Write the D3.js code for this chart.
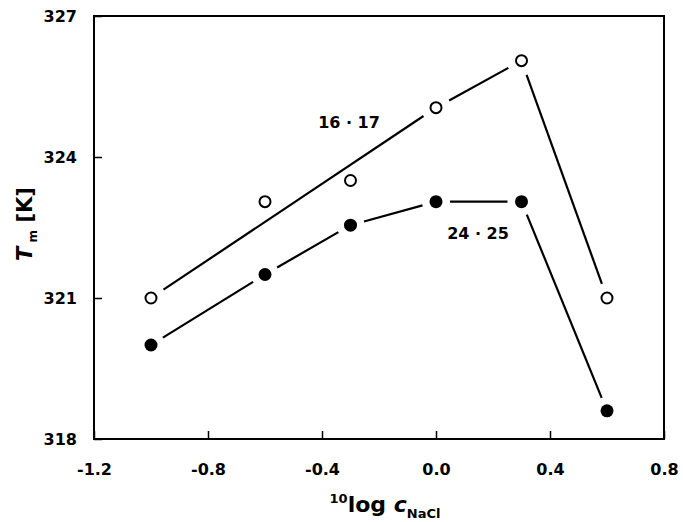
<!DOCTYPE html>
<html>
<head>
<meta charset="utf-8">
<script src="https://cdn.jsdelivr.net/npm/d3@7"></script>
<style>
  body { margin: 0; background: #fff; }
  text { font-family: "DejaVu Sans", "Liberation Sans", Arial, sans-serif; font-weight: bold; fill: #000; }
</style>
</head>
<body>
<div id="chart"></div>
<script>
const width = 683;
const height = 522;

// data
const logC = [-1.0, -0.6, -0.3, 0.0, 0.3, 0.6];
const tm1617 = [321.0, 323.05, 323.5, 325.05, 326.05, 321.0];
const tm2425 = [320.0, 321.5, 322.55, 323.05, 323.05, 318.6];
// the open series line skips the -0.6 and -0.3 points
const line1617X = [-1.0, 0.0, 0.3, 0.6];
const xTicks = [-1.2, -0.8, -0.4, 0.0, 0.4, 0.8];
const yTicks = [318, 321, 324, 327];

const x = d3.scaleLinear().domain([-1.2, 0.8]).range([94, 664]);
const y = d3.scaleLinear().domain([318, 327]).range([439, 16]);

const svg = d3.select("#chart").append("svg").attr("width", width).attr("height", height);

// frame
svg.append("rect")
    .attr("x", x(-1.2)).attr("y", y(327))
    .attr("width", x(0.8) - x(-1.2)).attr("height", y(318) - y(327))
    .attr("fill", "none").attr("stroke", "#000").attr("stroke-width", 2);

// axes with inward ticks
const xAxis = svg.append("g")
    .attr("transform", `translate(0,${y(318)})`)
    .call(d3.axisBottom(x).tickValues(xTicks).tickSizeInner(-8).tickSizeOuter(0).tickPadding(25));
xAxis.select(".domain").remove();
xAxis.selectAll("line").attr("stroke-width", 1.5);
xAxis.selectAll("text").style("font-size", "16px").text(d => d3.format(".1f")(d).replace("\u2212", "-"));

const yAxis = svg.append("g")
    .attr("transform", `translate(${x(-1.2)},0)`)
    .call(d3.axisLeft(y).tickValues(yTicks).tickSizeInner(-8).tickSizeOuter(0).tickPadding(17));
yAxis.select(".domain").remove();
yAxis.selectAll("line").attr("stroke-width", 1.5);
yAxis.selectAll("text").style("font-size", "16px");

// segments between points, with a gap round each marker
function gapped(points, gap) {
    const segs = [];
    for (let i = 0; i < points.length - 1; i++) {
        const [x1, y1] = points[i], [x2, y2] = points[i + 1];
        const len = Math.hypot(x2 - x1, y2 - y1);
        const ux = (x2 - x1) / len, uy = (y2 - y1) / len;
        segs.push([x1 + ux * gap, y1 + uy * gap, x2 - ux * gap, y2 - uy * gap]);
    }
    return segs;
}

const pts1617 = line1617X.map(v => [x(v), y(tm1617[logC.indexOf(v)])]);
const pts2425 = logC.map((v, i) => [x(v), y(tm2425[i])]);

svg.selectAll("line.seg")
    .data(gapped(pts1617, 15).concat(gapped(pts2425, 14)))
    .join("line")
    .attr("class", "seg")
    .attr("x1", d => d[0]).attr("y1", d => d[1])
    .attr("x2", d => d[2]).attr("y2", d => d[3])
    .attr("stroke", "#000").attr("stroke-width", 2.2);

svg.selectAll("circle.open")
    .data(logC)
    .join("circle")
    .attr("class", "open")
    .attr("cx", d => x(d))
    .attr("cy", (d, i) => y(tm1617[i]))
    .attr("r", 5.5)
    .attr("fill", "#fff").attr("stroke", "#000").attr("stroke-width", 2);

svg.selectAll("circle.filled")
    .data(logC)
    .join("circle")
    .attr("class", "filled")
    .attr("cx", d => x(d))
    .attr("cy", (d, i) => y(tm2425[i]))
    .attr("r", 6.5)
    .attr("fill", "#000");

// series labels
svg.append("text").attr("x", 349).attr("y", 128).attr("text-anchor", "middle")
    .style("font-size", "16px").text("16 \u00b7 17");
svg.append("text").attr("x", 478).attr("y", 239).attr("text-anchor", "middle")
    .style("font-size", "16px").text("24 \u00b7 25");

// axis titles
const xt = svg.append("text").attr("x", 385).attr("y", 512).attr("text-anchor", "middle")
    .style("font-size", "22px");
xt.append("tspan").attr("dy", -9).style("font-size", "13px").text("10");
xt.append("tspan").attr("dy", 9).text("log ");
xt.append("tspan").style("font-style", "italic").text("c");
xt.append("tspan").attr("dy", 6).style("font-size", "13px").text("NaCl");

const yt = svg.append("text")
    .attr("transform", `translate(32,224) rotate(-90)`)
    .attr("text-anchor", "middle")
    .style("font-size", "21px");
yt.append("tspan").style("font-style", "italic").text("T");
yt.append("tspan").attr("dy", 5).style("font-size", "12px").text(" m");
yt.append("tspan").attr("dy", -5).text(" [K]");
</script>
</body>
</html>
